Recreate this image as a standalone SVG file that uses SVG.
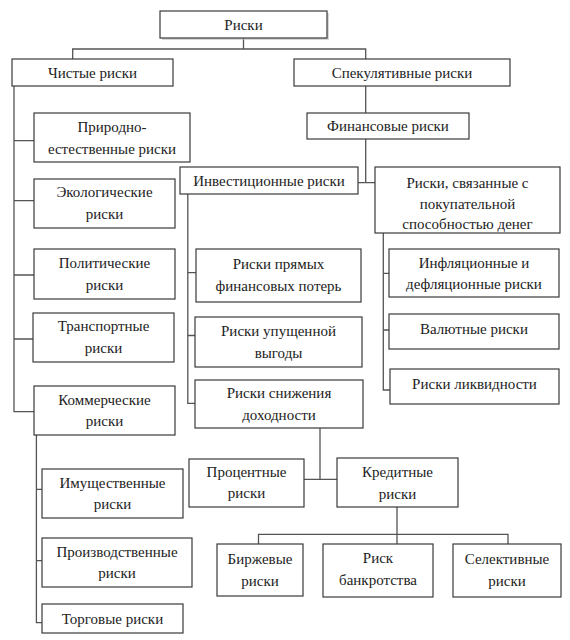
<svg xmlns="http://www.w3.org/2000/svg" width="570" height="640" viewBox="0 0 570 640">
<style>
.b{fill:#fff;stroke:#3a3a3a;stroke-width:1.2}
.t{font-family:"Times New Roman","Liberation Serif","Noto Serif","DejaVu Serif",serif;font-size:15px;fill:#222;text-anchor:middle;dominant-baseline:central}
.c{fill:none;stroke:#555;stroke-width:1.3}
</style>
<rect width="570" height="640" fill="#fff"/>
<g id="connectors">
<path class="c" d="M243.5 38V49M72.7 59V49H365.7V59M365.7 86V113M365.7 139V182.7M358 182.7H375"/>
<path class="c" d="M14 86V411.7H34M14 140.7H34M14 200.7H34M14 275H34M14 339H33"/>
<path class="c" d="M36.4 435V622.7H42M36.4 489.3H42M36.4 560.7H42"/>
<path class="c" d="M187.8 194V403.3H195M187.8 272.7H196M187.8 335.5H195"/>
<path class="c" d="M383.3 233V390H390M383.3 273.3H389M383.3 330H389"/>
<path class="c" d="M320 428V479.3M304 479.3H337"/>
<path class="c" d="M397 507V544M258.5 544V534.3H508V544"/>
</g>
<g id="root"><rect x="162" y="13" width="167" height="27" fill="#bbb" opacity="0.6"/><rect class="b" x="160" y="11" width="167" height="27"/><text class="t" x="243.5" y="24.5">Риски</text></g>
<g id="pure"><rect class="b" x="12" y="59" width="161" height="27"/><text class="t" x="92.5" y="72.5">Чистые риски</text></g>
<g id="spec"><rect class="b" x="294" y="59" width="216" height="27"/><text class="t" x="402" y="72.5">Спекулятивные риски</text></g>
<g id="fin"><rect class="b" x="307" y="113" width="162" height="26"/><text class="t" x="388" y="126">Финансовые риски</text></g>
<g id="natural"><rect class="b" x="34" y="113" width="156" height="49"/><text class="t" x="112" y="127">Природно-</text><text class="t" x="112" y="148.5">естественные риски</text></g>
<g id="eco"><rect class="b" x="34" y="179" width="141" height="49"/><text class="t" x="104.5" y="192">Экологические</text><text class="t" x="104.5" y="213.5">риски</text></g>
<g id="pol"><rect class="b" x="34" y="249" width="141" height="50"/><text class="t" x="104.5" y="263">Политические</text><text class="t" x="104.5" y="284.5">риски</text></g>
<g id="trans"><rect class="b" x="33" y="313" width="141" height="49"/><text class="t" x="103.5" y="326">Транспортные</text><text class="t" x="103.5" y="347.5">риски</text></g>
<g id="comm"><rect class="b" x="34" y="386" width="141" height="49"/><text class="t" x="104.5" y="399.5">Коммерческие</text><text class="t" x="104.5" y="421">риски</text></g>
<g id="prop"><rect class="b" x="42" y="469" width="141" height="49"/><text class="t" x="112.5" y="482.5">Имущественные</text><text class="t" x="112.5" y="504">риски</text></g>
<g id="prod"><rect class="b" x="42" y="538" width="150" height="49"/><text class="t" x="117" y="551.5">Производственные</text><text class="t" x="117" y="573">риски</text></g>
<g id="trade"><rect class="b" x="42" y="604" width="141" height="29"/><text class="t" x="112.5" y="618.5">Торговые риски</text></g>
<g id="invest"><rect class="b" x="180" y="167" width="178" height="27"/><text class="t" x="269" y="180.5">Инвестиционные риски</text></g>
<g id="purch"><rect class="b" x="375" y="167" width="185" height="66"/><text class="t" x="467.5" y="182.7">Риски, связанные с</text><text class="t" x="467.5" y="203.5">покупательной</text><text class="t" x="467.5" y="224">способностью денег</text></g>
<g id="direct"><rect class="b" x="196" y="249" width="165" height="53"/><text class="t" x="278.5" y="264">Риски прямых</text><text class="t" x="278.5" y="286">финансовых потерь</text></g>
<g id="lost"><rect class="b" x="195" y="317" width="167" height="50"/><text class="t" x="278.5" y="331">Риски упущенной</text><text class="t" x="278.5" y="352.5">выгоды</text></g>
<g id="decline"><rect class="b" x="195" y="380" width="168" height="48"/><text class="t" x="279" y="393">Риски снижения</text><text class="t" x="279" y="414.5">доходности</text></g>
<g id="infl"><rect class="b" x="389" y="249" width="170" height="48"/><text class="t" x="474" y="262.5">Инфляционные и</text><text class="t" x="474" y="284">дефляционные риски</text></g>
<g id="curr"><rect class="b" x="389" y="314" width="170" height="35"/><text class="t" x="474" y="328.5">Валютные риски</text></g>
<g id="liq"><rect class="b" x="390" y="369" width="169" height="35"/><text class="t" x="474.5" y="383.5">Риски ликвидности</text></g>
<g id="perc"><rect class="b" x="189" y="459" width="115" height="48"/><text class="t" x="246.5" y="471.5">Процентные</text><text class="t" x="246.5" y="493">риски</text></g>
<g id="cred"><rect class="b" x="337" y="458" width="121" height="49"/><text class="t" x="397.5" y="472">Кредитные</text><text class="t" x="397.5" y="493.5">риски</text></g>
<g id="exch"><rect class="b" x="217" y="544" width="86" height="52"/><text class="t" x="260" y="559">Биржевые</text><text class="t" x="260" y="580.5">риски</text></g>
<g id="bank"><rect class="b" x="323" y="544" width="110" height="53"/><text class="t" x="378" y="558">Риск</text><text class="t" x="378" y="579.5">банкротства</text></g>
<g id="sel"><rect class="b" x="453" y="544" width="108" height="53"/><text class="t" x="507" y="559">Селективные</text><text class="t" x="507" y="580.5">риски</text></g>
</svg>
